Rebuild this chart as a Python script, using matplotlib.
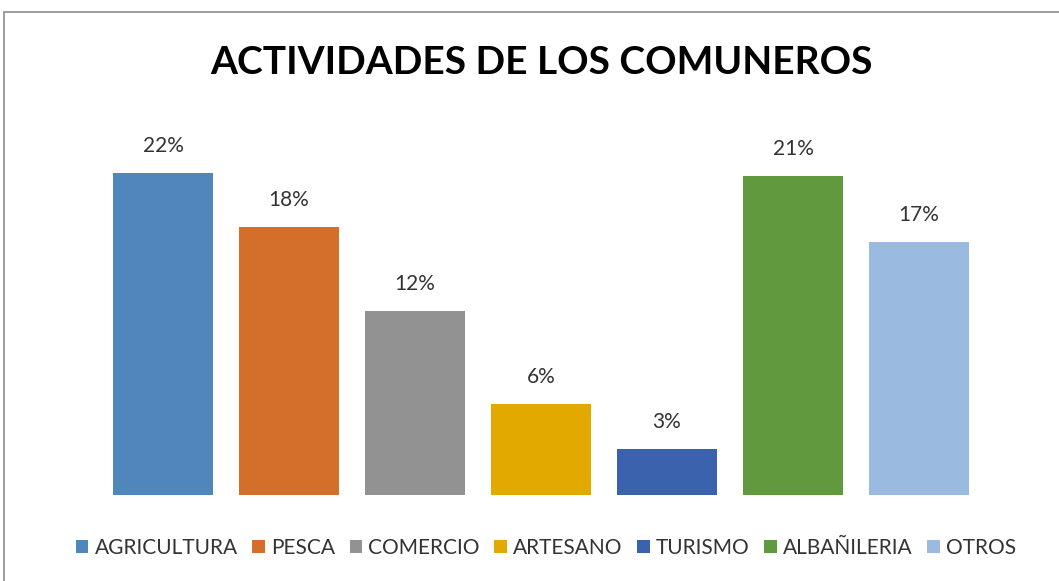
import matplotlib.pyplot as plt
from matplotlib.patches import Rectangle

categorias = ['AGRICULTURA', 'PESCA', 'COMERCIO', 'ARTESANO', 'TURISMO', 'ALBAÑILERIA', 'OTROS']
porcentajes = [21.5, 17.9, 12.3, 6.1, 3.1, 21.3, 16.9]
colores = ['#4F87BC', '#D36E2B', '#929292', '#E2AA00', '#3B63AD', '#60993E', '#9BBAE0']

plt.rcParams['font.family'] = ['Lato', 'DejaVu Sans']

fig = plt.figure(figsize=(10.59, 5.81), dpi=100)
fig.patches.append(Rectangle((4 / 1059, -0.05), 1.1, (569 + 0.05 * 581) / 581,
                             transform=fig.transFigure, fill=False,
                             edgecolor='#8c8c8c', linewidth=1.2))

ax = fig.add_axes([100 / 1059, 86 / 581, 882 / 1059, 360 / 581])
x = range(len(categorias))
bars = ax.bar(x, porcentajes, width=0.79, color=colores, label=categorias)
for b, v in zip(bars, porcentajes):
    ax.text(b.get_x() + b.get_width() / 2, v + 1.1, f'{round(v)}%',
            ha='center', va='bottom', fontsize=15, color='#333333')

ax.set_xlim(-0.5, len(categorias) - 0.5)
ax.set_ylim(0, 24)
ax.axis('off')

fig.text(541 / 1059, 1 - 63 / 581, 'ACTIVIDADES DE LOS COMUNEROS',
         ha='center', va='center', fontsize=28, fontweight='bold')

fig.legend(handles=bars, labels=categorias, loc='center', ncol=7,
           bbox_to_anchor=(546 / 1059, 1 - 548 / 581), frameon=False,
           fontsize=15, handlelength=0.6, handleheight=0.6,
           handletextpad=0.3, columnspacing=0.7, labelcolor='#333333')

plt.savefig('out.png', dpi=100)
